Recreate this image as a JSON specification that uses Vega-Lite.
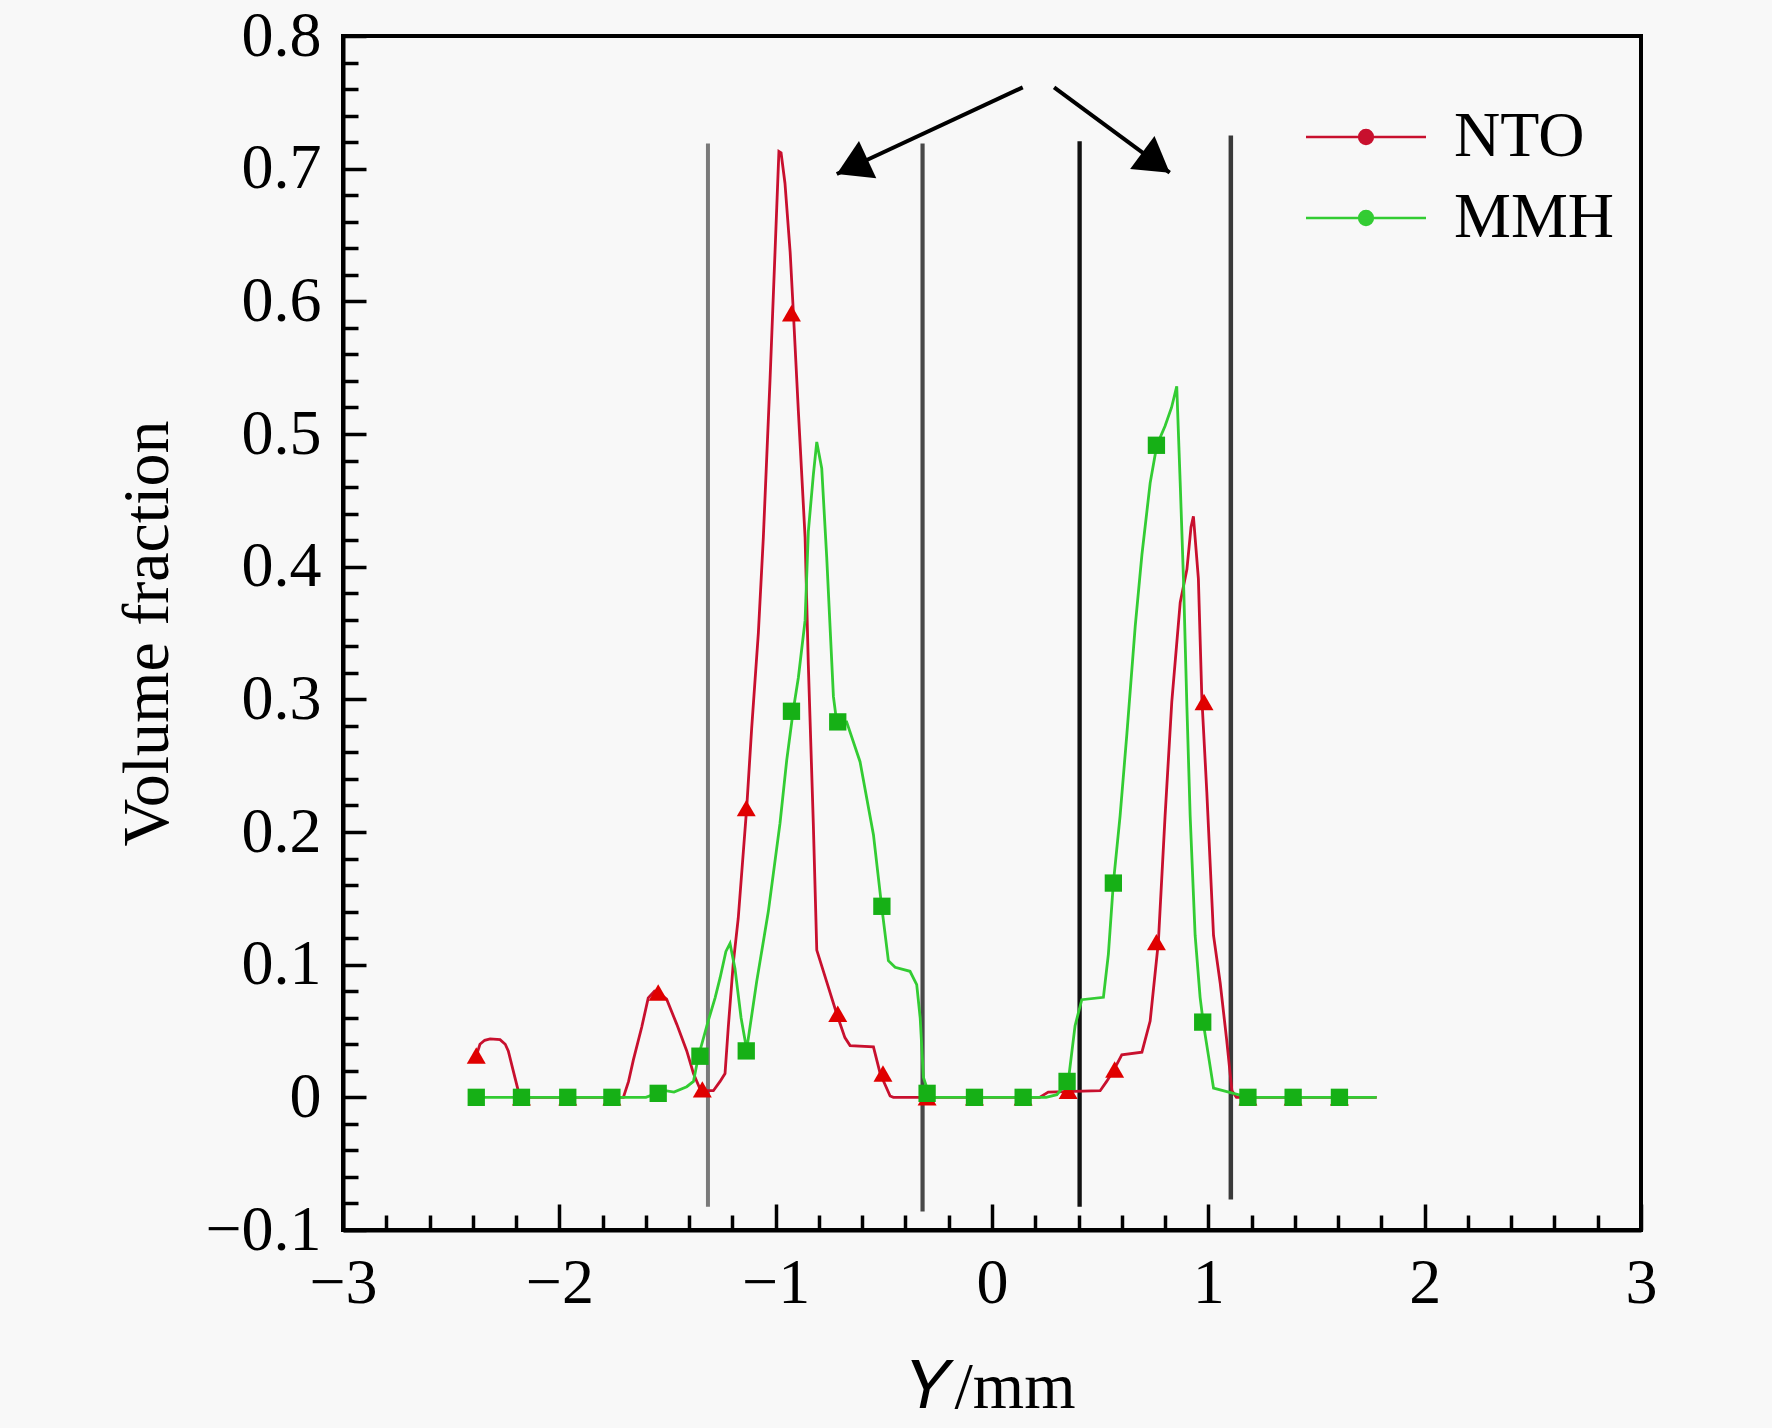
{
  "$schema": "https://vega.github.io/schema/vega-lite/v6.json",
  "width": 1298,
  "height": 1194,
  "autosize": "none",
  "padding": {"left": 343, "top": 36, "right": 131, "bottom": 198},
  "background": "#f8f8f8",
  "config": {
    "font": "Liberation Serif",
    "view": {"stroke": "black", "strokeWidth": 4},
    "axis": {
      "grid": false,
      "domainColor": "black",
      "domainWidth": 4,
      "tickColor": "black",
      "tickWidth": 3.5,
      "labelFont": "Liberation Serif",
      "labelFontSize": 64,
      "labelColor": "black",
      "labelOverlap": false,
      "titleFont": "Liberation Serif",
      "titleFontSize": 66,
      "titleFontWeight": "normal",
      "titleColor": "black"
    }
  },
  "datasets": {
    "curves": [
      {"s": "NTO", "x": -2.384, "y": 0.031},
      {"s": "NTO", "x": -2.367, "y": 0.04},
      {"s": "NTO", "x": -2.345, "y": 0.043},
      {"s": "NTO", "x": -2.32, "y": 0.044},
      {"s": "NTO", "x": -2.274, "y": 0.0435},
      {"s": "NTO", "x": -2.25, "y": 0.04},
      {"s": "NTO", "x": -2.236, "y": 0.035},
      {"s": "NTO", "x": -2.213, "y": 0.02},
      {"s": "NTO", "x": -2.19, "y": 0.005},
      {"s": "NTO", "x": -2.175, "y": 0},
      {"s": "NTO", "x": -1.704, "y": 0},
      {"s": "NTO", "x": -1.68, "y": 0.012},
      {"s": "NTO", "x": -1.658, "y": 0.028},
      {"s": "NTO", "x": -1.619, "y": 0.053},
      {"s": "NTO", "x": -1.589, "y": 0.075},
      {"s": "NTO", "x": -1.56, "y": 0.08},
      {"s": "NTO", "x": -1.542, "y": 0.079},
      {"s": "NTO", "x": -1.504, "y": 0.074},
      {"s": "NTO", "x": -1.457, "y": 0.055},
      {"s": "NTO", "x": -1.411, "y": 0.035},
      {"s": "NTO", "x": -1.38, "y": 0.018},
      {"s": "NTO", "x": -1.349, "y": 0.006},
      {"s": "NTO", "x": -1.326, "y": 0.005},
      {"s": "NTO", "x": -1.288, "y": 0.005},
      {"s": "NTO", "x": -1.257, "y": 0.012},
      {"s": "NTO", "x": -1.234, "y": 0.018},
      {"s": "NTO", "x": -1.219, "y": 0.053},
      {"s": "NTO", "x": -1.196, "y": 0.101},
      {"s": "NTO", "x": -1.173, "y": 0.135},
      {"s": "NTO", "x": -1.134, "y": 0.218},
      {"s": "NTO", "x": -1.111, "y": 0.278},
      {"s": "NTO", "x": -1.08, "y": 0.35},
      {"s": "NTO", "x": -1.057, "y": 0.422},
      {"s": "NTO", "x": -1.026, "y": 0.541},
      {"s": "NTO", "x": -1.003, "y": 0.637},
      {"s": "NTO", "x": -0.985, "y": 0.713},
      {"s": "NTO", "x": -0.975, "y": 0.712},
      {"s": "NTO", "x": -0.957, "y": 0.689},
      {"s": "NTO", "x": -0.933, "y": 0.637},
      {"s": "NTO", "x": -0.918, "y": 0.591},
      {"s": "NTO", "x": -0.895, "y": 0.517},
      {"s": "NTO", "x": -0.864, "y": 0.422},
      {"s": "NTO", "x": -0.849, "y": 0.326},
      {"s": "NTO", "x": -0.826, "y": 0.2065},
      {"s": "NTO", "x": -0.81, "y": 0.111},
      {"s": "NTO", "x": -0.764, "y": 0.087},
      {"s": "NTO", "x": -0.718, "y": 0.063},
      {"s": "NTO", "x": -0.68, "y": 0.045},
      {"s": "NTO", "x": -0.656, "y": 0.039},
      {"s": "NTO", "x": -0.548, "y": 0.038},
      {"s": "NTO", "x": -0.517, "y": 0.018},
      {"s": "NTO", "x": -0.471, "y": 0.001},
      {"s": "NTO", "x": -0.456, "y": 0},
      {"s": "NTO", "x": 0.22, "y": 0},
      {"s": "NTO", "x": 0.26, "y": 0.004},
      {"s": "NTO", "x": 0.5, "y": 0.005},
      {"s": "NTO", "x": 0.53, "y": 0.012},
      {"s": "NTO", "x": 0.561, "y": 0.02},
      {"s": "NTO", "x": 0.6, "y": 0.032},
      {"s": "NTO", "x": 0.693, "y": 0.034},
      {"s": "NTO", "x": 0.731, "y": 0.0575},
      {"s": "NTO", "x": 0.769, "y": 0.117},
      {"s": "NTO", "x": 0.8, "y": 0.212},
      {"s": "NTO", "x": 0.831, "y": 0.298},
      {"s": "NTO", "x": 0.87, "y": 0.373},
      {"s": "NTO", "x": 0.901, "y": 0.398},
      {"s": "NTO", "x": 0.92, "y": 0.43},
      {"s": "NTO", "x": 0.931, "y": 0.438},
      {"s": "NTO", "x": 0.954, "y": 0.391},
      {"s": "NTO", "x": 0.97, "y": 0.301},
      {"s": "NTO", "x": 0.993, "y": 0.23},
      {"s": "NTO", "x": 1.024, "y": 0.122},
      {"s": "NTO", "x": 1.055, "y": 0.086},
      {"s": "NTO", "x": 1.085, "y": 0.043},
      {"s": "NTO", "x": 1.109, "y": 0.005},
      {"s": "NTO", "x": 1.13, "y": 0},
      {"s": "NTO", "x": 1.778, "y": 0},
      {"s": "MMH", "x": -2.384, "y": 0},
      {"s": "MMH", "x": -1.6, "y": 0},
      {"s": "MMH", "x": -1.55, "y": 0.003},
      {"s": "MMH", "x": -1.51, "y": 0.005},
      {"s": "MMH", "x": -1.47, "y": 0.004},
      {"s": "MMH", "x": -1.411, "y": 0.008},
      {"s": "MMH", "x": -1.38, "y": 0.012},
      {"s": "MMH", "x": -1.357, "y": 0.031},
      {"s": "MMH", "x": -1.311, "y": 0.058},
      {"s": "MMH", "x": -1.28, "y": 0.075},
      {"s": "MMH", "x": -1.257, "y": 0.09},
      {"s": "MMH", "x": -1.23, "y": 0.11},
      {"s": "MMH", "x": -1.211, "y": 0.116},
      {"s": "MMH", "x": -1.188, "y": 0.097},
      {"s": "MMH", "x": -1.16, "y": 0.06},
      {"s": "MMH", "x": -1.134, "y": 0.036},
      {"s": "MMH", "x": -1.088, "y": 0.087},
      {"s": "MMH", "x": -1.034, "y": 0.14},
      {"s": "MMH", "x": -0.98, "y": 0.2065},
      {"s": "MMH", "x": -0.949, "y": 0.254},
      {"s": "MMH", "x": -0.918, "y": 0.2925},
      {"s": "MMH", "x": -0.895, "y": 0.3165},
      {"s": "MMH", "x": -0.864, "y": 0.3595},
      {"s": "MMH", "x": -0.849, "y": 0.4265},
      {"s": "MMH", "x": -0.826, "y": 0.469},
      {"s": "MMH", "x": -0.81, "y": 0.494},
      {"s": "MMH", "x": -0.787, "y": 0.474},
      {"s": "MMH", "x": -0.764, "y": 0.407},
      {"s": "MMH", "x": -0.733, "y": 0.302},
      {"s": "MMH", "x": -0.718, "y": 0.283},
      {"s": "MMH", "x": -0.672, "y": 0.283},
      {"s": "MMH", "x": -0.61, "y": 0.253},
      {"s": "MMH", "x": -0.548, "y": 0.198},
      {"s": "MMH", "x": -0.51, "y": 0.144},
      {"s": "MMH", "x": -0.479, "y": 0.103},
      {"s": "MMH", "x": -0.448, "y": 0.098},
      {"s": "MMH", "x": -0.379, "y": 0.095},
      {"s": "MMH", "x": -0.348, "y": 0.085},
      {"s": "MMH", "x": -0.332, "y": 0.06},
      {"s": "MMH", "x": -0.317, "y": 0.015},
      {"s": "MMH", "x": -0.286, "y": 0},
      {"s": "MMH", "x": 0.25, "y": 0},
      {"s": "MMH", "x": 0.3, "y": 0.002},
      {"s": "MMH", "x": 0.353, "y": 0.0128},
      {"s": "MMH", "x": 0.384, "y": 0.054},
      {"s": "MMH", "x": 0.415, "y": 0.0736},
      {"s": "MMH", "x": 0.515, "y": 0.0754},
      {"s": "MMH", "x": 0.538, "y": 0.108},
      {"s": "MMH", "x": 0.561, "y": 0.1615},
      {"s": "MMH", "x": 0.592, "y": 0.212},
      {"s": "MMH", "x": 0.623, "y": 0.273},
      {"s": "MMH", "x": 0.662, "y": 0.355},
      {"s": "MMH", "x": 0.693, "y": 0.409},
      {"s": "MMH", "x": 0.731, "y": 0.463},
      {"s": "MMH", "x": 0.762, "y": 0.4915},
      {"s": "MMH", "x": 0.8, "y": 0.506},
      {"s": "MMH", "x": 0.83, "y": 0.52},
      {"s": "MMH", "x": 0.854, "y": 0.536},
      {"s": "MMH", "x": 0.87, "y": 0.463},
      {"s": "MMH", "x": 0.885, "y": 0.391},
      {"s": "MMH", "x": 0.901, "y": 0.294},
      {"s": "MMH", "x": 0.916, "y": 0.212},
      {"s": "MMH", "x": 0.939, "y": 0.122},
      {"s": "MMH", "x": 0.962, "y": 0.0754},
      {"s": "MMH", "x": 0.977, "y": 0.0557},
      {"s": "MMH", "x": 1.0, "y": 0.032},
      {"s": "MMH", "x": 1.024, "y": 0.007},
      {"s": "MMH", "x": 1.116, "y": 0.003},
      {"s": "MMH", "x": 1.185, "y": 0},
      {"s": "MMH", "x": 1.778, "y": 0}
    ],
    "markers": [
      {"series": "NTO", "x": -2.384, "y": 0.0315},
      {"series": "NTO", "x": -2.175, "y": 0},
      {"series": "NTO", "x": -1.961, "y": 0},
      {"series": "NTO", "x": -1.757, "y": 0},
      {"series": "NTO", "x": -1.543, "y": 0.079},
      {"series": "NTO", "x": -1.339, "y": 0.006},
      {"series": "NTO", "x": -1.136, "y": 0.218},
      {"series": "NTO", "x": -0.927, "y": 0.591},
      {"series": "NTO", "x": -0.713, "y": 0.063},
      {"series": "NTO", "x": -0.504, "y": 0.018},
      {"series": "NTO", "x": -0.3, "y": 0},
      {"series": "NTO", "x": -0.081, "y": 0},
      {"series": "NTO", "x": 0.144, "y": 0},
      {"series": "NTO", "x": 0.352, "y": 0.005},
      {"series": "NTO", "x": 0.567, "y": 0.021},
      {"series": "NTO", "x": 0.76, "y": 0.117},
      {"series": "NTO", "x": 0.98, "y": 0.298},
      {"series": "NTO", "x": 1.183, "y": 0},
      {"series": "NTO", "x": 1.392, "y": 0},
      {"series": "NTO", "x": 1.606, "y": 0},
      {"series": "MMH", "x": -2.384, "y": 0},
      {"series": "MMH", "x": -2.175, "y": 0},
      {"series": "MMH", "x": -1.961, "y": 0},
      {"series": "MMH", "x": -1.757, "y": 0},
      {"series": "MMH", "x": -1.543, "y": 0.003},
      {"series": "MMH", "x": -1.35, "y": 0.031},
      {"series": "MMH", "x": -1.136, "y": 0.035},
      {"series": "MMH", "x": -0.927, "y": 0.291},
      {"series": "MMH", "x": -0.713, "y": 0.283},
      {"series": "MMH", "x": -0.509, "y": 0.144},
      {"series": "MMH", "x": -0.3, "y": 0.003},
      {"series": "MMH", "x": -0.081, "y": 0},
      {"series": "MMH", "x": 0.144, "y": 0},
      {"series": "MMH", "x": 0.347, "y": 0.012},
      {"series": "MMH", "x": 0.561, "y": 0.1615},
      {"series": "MMH", "x": 0.76, "y": 0.4915},
      {"series": "MMH", "x": 0.974, "y": 0.0567},
      {"series": "MMH", "x": 1.183, "y": 0},
      {"series": "MMH", "x": 1.392, "y": 0},
      {"series": "MMH", "x": 1.606, "y": 0}
    ],
    "bounds": [
      {"id": "a", "x": -1.313, "y": -0.0825, "y2": 0.719},
      {"id": "b", "x": -0.321, "y": -0.086, "y2": 0.719},
      {"id": "c", "x": 0.405, "y": -0.0825, "y2": 0.7207},
      {"id": "d", "x": 1.104, "y": -0.077, "y2": 0.725}
    ],
    "arrows": [
      {"x": 0.142, "y": 0.7613, "x2": -0.7175, "y2": 0.696},
      {"x": 0.287, "y": 0.7613, "x2": 0.8215, "y2": 0.697}
    ]
  },
  "layer": [
    {
      "data": {"name": "bounds"},
      "mark": {"type": "rule"},
      "encoding": {
        "x": {"field": "x", "type": "quantitative", "scale": {"domain": [-3, 3], "nice": false, "zero": false},
          "axis": {
            "values": [-3, -2.8, -2.6, -2.4, -2.2, -2, -1.8, -1.6, -1.4, -1.2, -1, -0.8, -0.6, -0.4, -0.2, 0, 0.2, 0.4, 0.6, 0.8, 1, 1.2, 1.4, 1.6, 1.8, 2, 2.2, 2.4, 2.6, 2.8, 3],
            "tickCount": 100,
            "format": "~g",
            "labelExpr": "abs(datum.value - round(datum.value)) < 0.001 ? datum.label : ''",
            "tickSize": {"condition": {"test": "abs(datum.value - round(datum.value)) < 0.001", "value": -26}, "value": -15},
            "labelFontSize": 64,
            "labelPadding": 47,
            "labelFlush": false,
            "labelOverlap": false,
            "title": "𝑌/mm",
            "titleFontSize": 66,
            "titlePadding": 29
          }
        },
        "y": {"field": "y", "type": "quantitative", "scale": {"domain": [-0.1, 0.8], "nice": false, "zero": false},
          "axis": {
            "values": [-0.1, -0.08, -0.06, -0.04, -0.02, 0, 0.02, 0.04, 0.06, 0.08, 0.1, 0.12, 0.14, 0.16, 0.18, 0.2, 0.22, 0.24, 0.26, 0.28, 0.3, 0.32, 0.34, 0.36, 0.38, 0.4, 0.42, 0.44, 0.46, 0.48, 0.5, 0.52, 0.54, 0.56, 0.58, 0.6, 0.62, 0.64, 0.66, 0.68, 0.7, 0.72, 0.74, 0.76, 0.78, 0.8],
            "tickCount": 100,
            "format": "~g",
            "labelExpr": "abs(datum.value * 10 - round(datum.value * 10)) < 0.001 ? datum.label : ''",
            "tickSize": {"condition": {"test": "abs(datum.value * 10 - round(datum.value * 10)) < 0.001", "value": -23}, "value": -15},
            "labelFontSize": 64,
            "labelPadding": 45,
            "labelFlush": false,
            "labelOverlap": false,
            "title": "Volume fraction",
            "titleFontSize": 66,
            "titlePadding": 23
          }
        },
        "y2": {"field": "y2"},
        "stroke": {"field": "id", "type": "nominal", "scale": {"domain": ["a", "b", "c", "d"], "range": ["#7a7a7a", "#484848", "#111111", "#3a3a3a"]}, "legend": null},
        "strokeWidth": {"field": "id", "type": "nominal", "scale": {"domain": ["a", "b", "c", "d"], "range": [4, 4.5, 2.5, 2.5]}, "legend": null}
      }
    },
    {
      "data": {"name": "arrows"},
      "mark": {"type": "rule", "color": "black", "strokeWidth": 4},
      "encoding": {
        "x": {"field": "x", "type": "quantitative"},
        "y": {"field": "y", "type": "quantitative"},
        "x2": {"field": "x2"},
        "y2": {"field": "y2"}
      }
    },
    {
      "data": {"name": "arrows"},
      "transform": [
        {"calculate": "atan2((datum.x2 - datum.x) * 216.3, (datum.y2 - datum.y) * 1327) * 180 / PI", "as": "angle"}
      ],
      "mark": {"type": "point", "shape": "M0,0L1,1.66L-1,1.66Z", "filled": true, "color": "black", "opacity": 1, "size": 1681},
      "encoding": {
        "x": {"field": "x2", "type": "quantitative"},
        "y": {"field": "y2", "type": "quantitative"},
        "angle": {"field": "angle", "type": "quantitative", "scale": null}
      }
    },
    {
      "data": {"name": "curves"},
      "mark": {"type": "line", "strokeWidth": 2.8},
      "encoding": {
        "x": {"field": "x", "type": "quantitative"},
        "y": {"field": "y", "type": "quantitative"},
        "color": {
          "field": "s", "type": "nominal",
          "scale": {"domain": ["NTO", "MMH"], "range": ["#c8102e", "#33cc33"]},
          "legend": {
            "orient": "none",
            "legendX": 991,
            "legendY": 69,
            "title": null,
            "padding": 0,
            "symbolType": "M-2,0H2M-0.23,0a0.23,0.23 0 1,0 0.46,0a0.23,0.23 0 1,0 -0.46,0",
            "symbolSize": 3600,
            "symbolStrokeWidth": 2.5,
            "labelFont": "Liberation Serif",
            "labelFontSize": 64,
            "labelColor": "black",
            "labelLimit": 0,
            "labelOffset": 56,
            "rowPadding": 17,
            "encode": {"symbols": {"update": {"fill": {"scale": "color", "field": "value"}, "fillOpacity": {"value": 1}}}}
          }
        }
      }
    },
    {
      "data": {"name": "markers"},
      "transform": [{"filter": "datum.series == 'NTO'"}],
      "mark": {"type": "point", "shape": "triangle-up", "filled": true, "color": "#e00000", "opacity": 1, "size": 360},
      "encoding": {
        "x": {"field": "x", "type": "quantitative"},
        "y": {"field": "y", "type": "quantitative"}
      }
    },
    {
      "data": {"name": "markers"},
      "transform": [{"filter": "datum.series == 'MMH'"}],
      "mark": {"type": "point", "shape": "square", "filled": true, "color": "#16b016", "opacity": 1, "size": 300},
      "encoding": {
        "x": {"field": "x", "type": "quantitative"},
        "y": {"field": "y", "type": "quantitative"}
      }
    }
  ]
}
